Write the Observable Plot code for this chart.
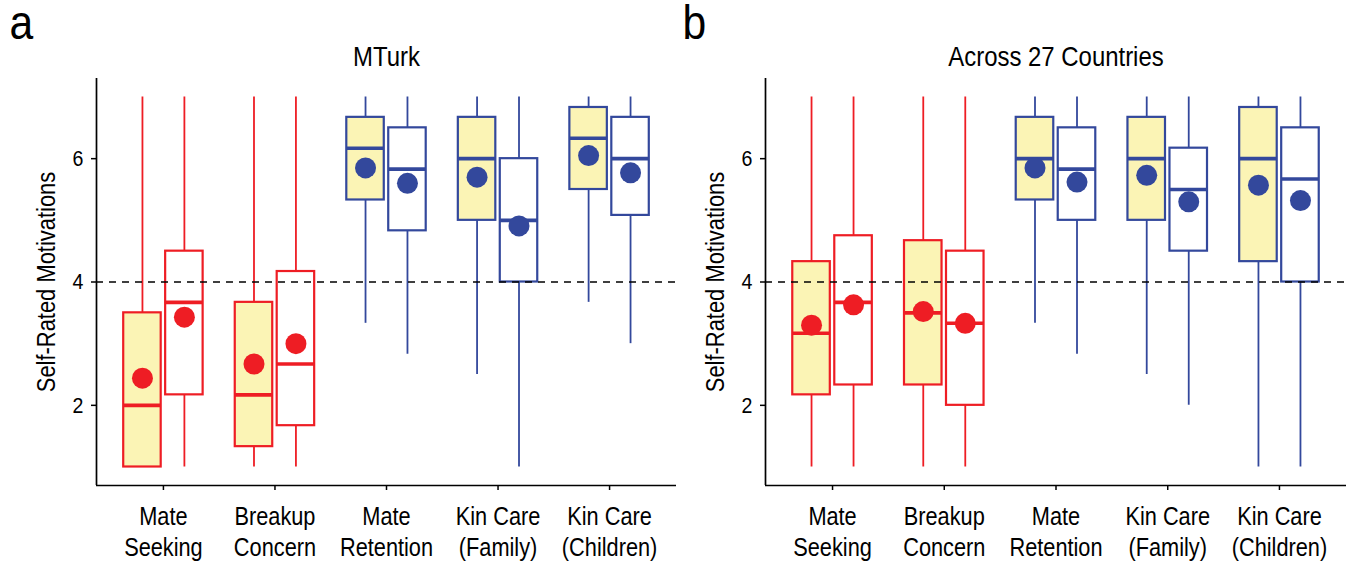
<!DOCTYPE html>
<html><head><meta charset="utf-8">
<script src="https://cdn.jsdelivr.net/npm/d3@7"></script>
<script src="https://cdn.jsdelivr.net/npm/@observablehq/plot@0.6"></script>
<style>
body{margin:0;background:#fff;}
#wrap{position:relative;width:1348px;height:561px;overflow:hidden;}
.panel{position:absolute;top:0;}
</style></head><body>
<div id="wrap"></div>
<script>
// ---- data ----
const categories = ["Mate\nSeeking", "Breakup\nConcern", "Mate\nRetention", "Kin Care\n(Family)", "Kin Care\n(Children)"];
const conditions = ["filled", "open"];
const yTicks = [2, 4, 6];
const referenceLine = 4;
const yLabel = "Self-Rated Motivations";
const panelTitles = ["MTurk", "Across 27 Countries"];
const panelLetters = ["a", "b"];

// order: [cat1-filled, cat1-open, cat2-filled, cat2-open, ...]
const mturkLow    = [1, 1, 1, 1, 3.33, 2.83, 2.5, 1, 3.67, 3.0];
const mturkQ1     = [1, 2.17, 1.33, 1.67, 5.33, 4.83, 5.0, 4.0, 5.5, 5.08];
const mturkMedian = [2.0, 3.67, 2.17, 2.67, 6.17, 5.83, 6.0, 5.0, 6.33, 6.0];
const mturkQ3     = [3.5, 4.5, 3.67, 4.17, 6.67, 6.5, 6.67, 6.0, 6.83, 6.67];
const mturkHigh   = [7, 7, 7, 7, 7, 7, 7, 7, 7, 7];
const mturkMean   = [2.44, 3.43, 2.67, 3.0, 5.85, 5.6, 5.70, 4.91, 6.05, 5.77];

const countriesLow    = [1, 1, 1, 1, 3.33, 2.83, 2.5, 2.0, 1, 1];
const countriesQ1     = [2.17, 2.33, 2.33, 2.0, 5.33, 5.0, 5.0, 4.5, 4.33, 4.0];
const countriesMedian = [3.17, 3.67, 3.5, 3.33, 6.0, 5.83, 6.0, 5.5, 6.0, 5.67];
const countriesQ3     = [4.33, 4.75, 4.67, 4.5, 6.67, 6.5, 6.67, 6.17, 6.83, 6.5];
const countriesHigh   = [7, 7, 7, 7, 7, 7, 7, 7, 7, 7];
const countriesMean   = [3.30, 3.63, 3.52, 3.33, 5.85, 5.62, 5.73, 5.30, 5.57, 5.32];

// ---- style ----
const RED = "#EE1D24", BLUE = "#33489C", YELLOW = "#FBF4B5";
const FONT = '"Liberation Sans", Arial, sans-serif';
const SQUEEZE = 0.87;
const DODGE = 0.188, HALF = 0.168;
const YDOM = [0.70, 7.30];

function records(lo, q1, med, q3, hi, mean) {
  const out = [];
  categories.forEach((c, ci) => {
    conditions.forEach((cond, gi) => {
      const k = ci * 2 + gi;
      out.push({
        cat: ci + 1, cond,
        x: ci + 1 + (gi === 0 ? -DODGE : DODGE),
        lo: lo[k], q1: q1[k], med: med[k], q3: q3[k], hi: hi[k], mean: mean[k],
        color: ci < 2 ? RED : BLUE,
        fill: gi === 0 ? YELLOW : "white"
      });
    });
  });
  return out;
}

function panel(recs, title, letter, opts) {
  const svg = Plot.plot({
    width: opts.width, height: 561,
    marginLeft: opts.ml, marginRight: opts.mr, marginTop: 78, marginBottom: 76,
    x: {domain: [0.4, 5.6], axis: null},
    y: {domain: YDOM, axis: null},
    style: {fontFamily: FONT, background: "transparent", overflow: "visible", color: "#000"},
    marks: [
      Plot.ruleX(recs, {x: "x", y1: "lo", y2: "hi", stroke: "color", strokeWidth: 1.8}),
      Plot.rect(recs, {x1: d => d.x - HALF, x2: d => d.x + HALF, y1: "q1", y2: "q3", fill: "fill", stroke: "color", strokeWidth: 2.2}),
      Plot.ruleY(recs, {y: "med", x1: d => d.x - HALF, x2: d => d.x + HALF, stroke: "color", strokeWidth: 3.6}),
      Plot.ruleY([referenceLine], {stroke: "#000", strokeWidth: 1.3, strokeDasharray: "7,6"}),
      Plot.dot(recs, {x: "x", y: "mean", r: 10.5, fill: "color"}),
      Plot.ruleX([0.4], {stroke: "#000", strokeWidth: 1.7}),
      Plot.ruleY([YDOM[0]], {stroke: "#000", strokeWidth: 1.7}),
      Plot.axisY({ticks: yTicks, tickFormat: d => String(d), tickSize: 5, tickPadding: 8, fontSize: 22.5, label: null, strokeWidth: 1.5}),
      Plot.axisX({ticks: [1, 2, 3, 4, 5], tickFormat: i => categories[i - 1], tickSize: 5, tickPadding: 12, fontSize: 25, lineHeight: 1.26, label: null, strokeWidth: 1.5}),
      Plot.text([title], {frameAnchor: "top", dy: -21, fontSize: 27.5, lineAnchor: "middle"}),
      Plot.text([yLabel], {frameAnchor: "left", dx: -50, rotate: -90, textAnchor: "middle", lineAnchor: "middle", fontSize: 25.2}),
      Plot.text([letter], {frameAnchor: "top-left", dx: opts.letterDx, dy: -74, textAnchor: "start", lineAnchor: "top", fontSize: 49})
    ]
  });
  // condensed look: squeeze every text horizontally around its own anchor
  svg.querySelectorAll("text").forEach(t => {
    const tr = t.getAttribute("transform");
    if (tr) t.setAttribute("transform", tr + ` scale(${SQUEEZE},1)`);
    else {
      const x = +(t.getAttribute("x") || 0);
      t.setAttribute("transform", `translate(${x},0) scale(${SQUEEZE},1) translate(${-x},0)`);
    }
  });
  return svg;
}

const wrap = document.getElementById("wrap");
const pA = panel(records(mturkLow, mturkQ1, mturkMedian, mturkQ3, mturkHigh, mturkMean), panelTitles[0], panelLetters[0], {width: 680, ml: 96, mr: 4, letterDx: -87});
const pB = panel(records(countriesLow, countriesQ1, countriesMedian, countriesQ3, countriesHigh, countriesMean), panelTitles[1], panelLetters[1], {width: 674, ml: 91, mr: 2, letterDx: -83});
const dA = document.createElement("div"); dA.className = "panel"; dA.style.left = "0px"; dA.appendChild(pA);
const dB = document.createElement("div"); dB.className = "panel"; dB.style.left = "674px"; dB.appendChild(pB);
wrap.appendChild(dA); wrap.appendChild(dB);
</script>
</body></html>
